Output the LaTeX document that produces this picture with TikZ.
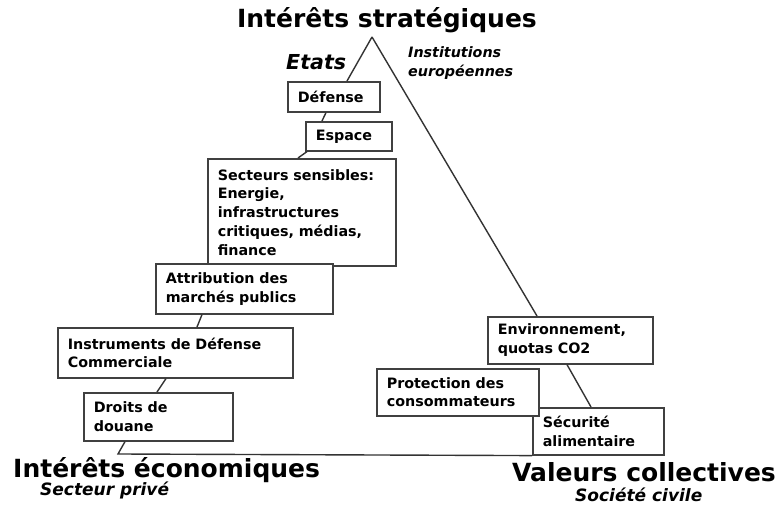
\documentclass[tikz,border=0pt]{standalone}
\usepackage{fontspec}
\setmainfont{DejaVu Sans}
\usepackage{tikz}

\begin{document}
\begin{tikzpicture}[x=1pt,y=-1pt,
    boite/.style={draw=black!75,line width=1.6pt,fill=white,anchor=north west,align=left,
        inner xsep=10pt,inner ysep=0pt,font=\fontsize{14.3}{18.7}\selectfont\bfseries},
    trait/.style={draw=black!80,line width=1.4pt},
    titre/.style={inner sep=0pt,font=\fontsize{25}{30}\selectfont\bfseries},
    acteur/.style={inner sep=0pt,font=\fontsize{17}{20}\selectfont\bfseries\itshape}]
            \path[use as bounding box,fill=white] (0,0) rectangle (780,510);
            \coordinate (sommet) at (372,37);
            \coordinate (base) at (118,454);
            \node[boite,text width=72pt,minimum height=30pt] (defense) at (287,81) {Défense};
            \node[boite,text width=66pt,minimum height=29pt] (espace) at (305,121) {Espace};
            \node[boite,text width=168pt,minimum height=107pt] (secteurs) at (207,158) {Secteurs sensibles:\\Energie,\\infrastructures\\critiques, médias,\\finance};
            \node[boite,text width=157pt,minimum height=50pt] (marches) at (155,263) {Attribution des\\marchés publics};
            \node[boite,text width=215pt,minimum height=50pt] (instruments) at (57,327) {Instruments de Défense\\Commerciale};
            \node[boite,text width=129pt,minimum height=48pt] (douane) at (83,392) {Droits de\\douane};
            \node[boite,text width=145pt,minimum height=47pt] (environnement) at (487,316) {Environnement,\\quotas CO2};
            \node[boite,text width=111pt,minimum height=47pt] (securite) at (532,407) {Sécurité\\alimentaire};
            \node[boite,text width=142pt,minimum height=47pt] (consommateurs) at (376,368) {Protection des\\consommateurs};
            \draw[trait] (sommet) -- ([xshift=60pt]defense.north west);
            \draw[trait] ([xshift=39pt]defense.south west) -- ([xshift=17pt]espace.north west);
            \draw[trait] ([xshift=2pt]espace.south west) -- ([xshift=91pt]secteurs.north west);
            \draw[trait] ([xshift=47pt]marches.south west) -- ([xshift=140pt]instruments.north west);
            \draw[trait] ([xshift=109pt]instruments.south west) -- ([xshift=74pt]douane.north west);
            \draw[trait] ([xshift=42pt]douane.south west) -- (base) -- (securite.south west);
            \draw[trait] (sommet) -- ([xshift=50pt]environnement.north west);
            \draw[trait] ([xshift=80pt]environnement.south west) -- ([xshift=59pt]securite.north west);
            \node[titre,anchor=base] (strategiques) at (387,28) {Intérêts stratégiques};
            \node[acteur,font=\fontsize{20.6}{24}\selectfont\bfseries\itshape,anchor=base west] (etats) at (286,70) {Etats};
            \node[acteur,font=\fontsize{14.3}{19}\selectfont\bfseries\itshape,align=left,anchor=north west] (institutions) at (408,46.5) {Institutions\\européennes};
            \node[titre,anchor=base west] (economiques) at (13,478) {Intérêts économiques};
            \node[acteur,anchor=base west] (prive) at (40,496) {Secteur privé};
            \node[titre,anchor=base west] (collectives) at (512,482) {Valeurs collectives};
            \node[acteur,anchor=base west] (civile) at (575,502) {Société civile};
    \end{tikzpicture}
\end{document}
